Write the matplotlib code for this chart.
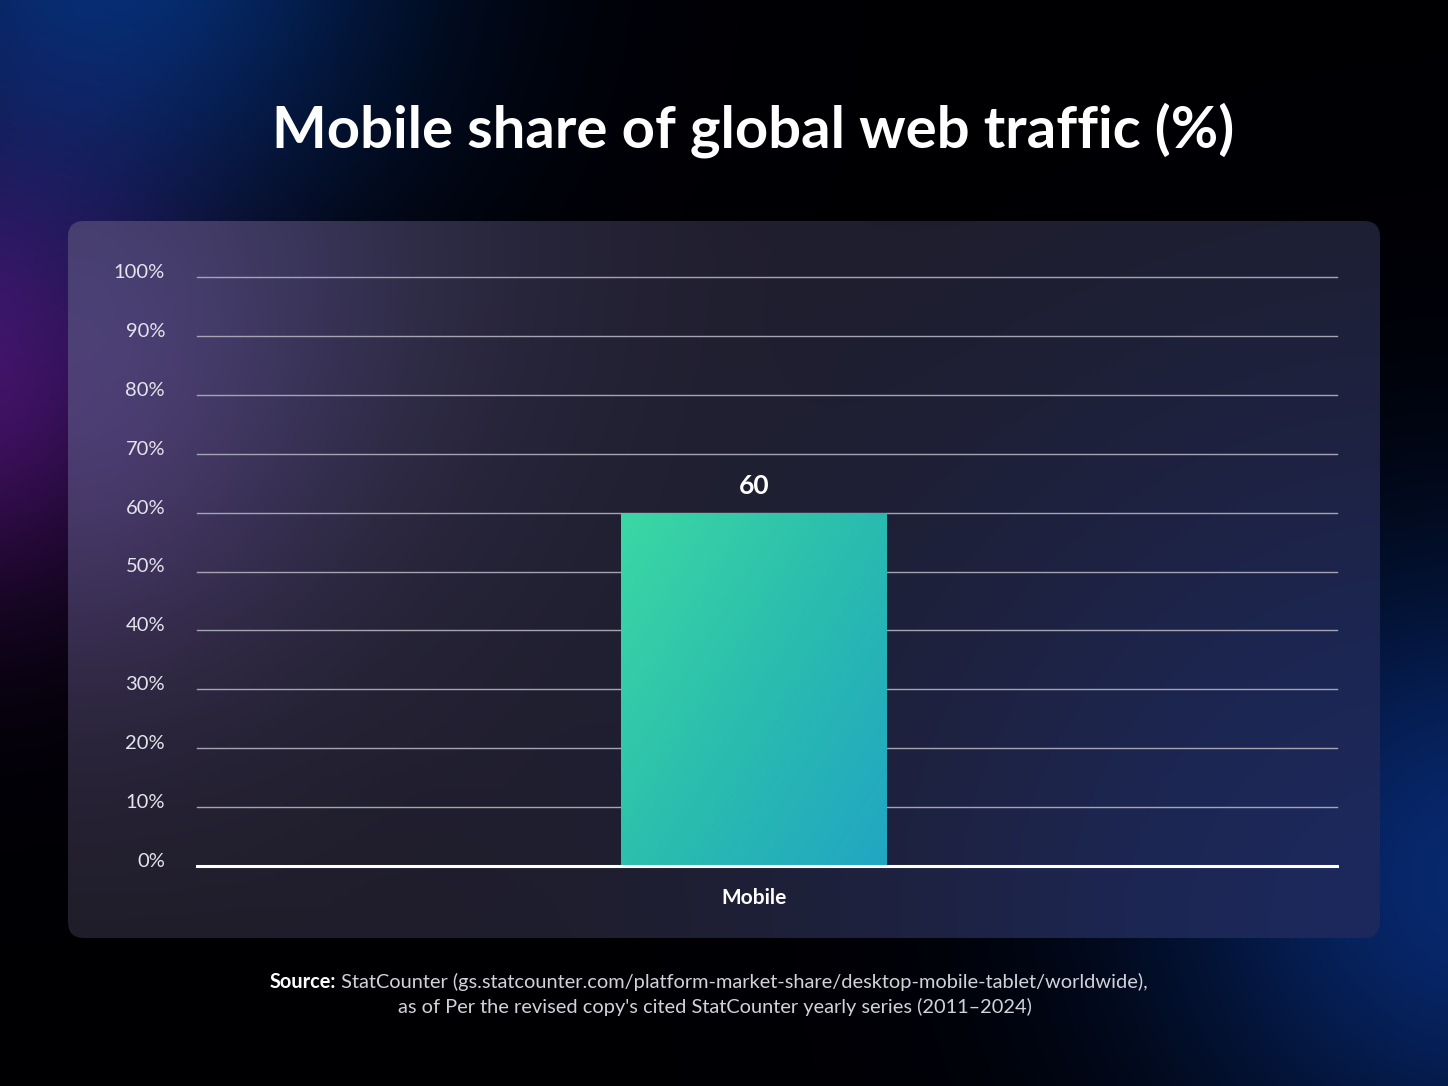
import numpy as np
import matplotlib.pyplot as plt
import matplotlib.transforms as mtransforms
from matplotlib.patches import FancyBboxPatch
from matplotlib.colors import LinearSegmentedColormap

# chart data
categories = ['Mobile']
values = [60]
y_ticks = [0, 10, 20, 30, 40, 50, 60, 70, 80, 90, 100]
y_tick_labels = [f'{t}%' for t in y_ticks]
title = 'Mobile share of global web traffic (%)'
source_bold = 'Source:'
source_line1 = ' StatCounter (gs.statcounter.com/platform-market-share/desktop-mobile-tablet/worldwide),'
source_line2 = "as of Per the revised copy's cited StatCounter yearly series (2011\u20132024)"

plt.rcParams['font.family'] = ['Lato', 'DejaVu Sans']

W, H = 1448, 1086
fig = plt.figure(figsize=(W / 100, H / 100), dpi=100)

# background with soft glows (pixel coords, y down)
bg = fig.add_axes([0, 0, 1, 1])
yy, xx = np.mgrid[0:H, 0:W]


def glow(cx, cy, r, color):
    d = np.exp(-((xx - cx) ** 2 + (yy - cy) ** 2) / (2.0 * r ** 2))
    return d[..., None] * np.array(color)[None, None, :]


img = np.zeros((H, W, 3)) + np.array([0.0, 0.0, 0.015])
img += glow(110, -60, 210, (0.02, 0.18, 0.44))
img += glow(-40, 380, 160, (0.26, 0.06, 0.36))
img += glow(1480, 880, 230, (0.03, 0.16, 0.42))
img = np.clip(img, 0, 1)
bg.imshow(img, extent=(0, W, H, 0), interpolation='bilinear')

# rounded panel
panel = FancyBboxPatch((68, 221), 1312, 717, boxstyle='round,pad=0,rounding_size=16',
                       facecolor='none', edgecolor='none')
bg.add_patch(panel)
pimg = np.zeros((H, W, 3)) + np.array([0.12, 0.11, 0.155])
pimg += glow(90, 230, 280, (0.12, 0.12, 0.23))
pimg += glow(40, 460, 180, (0.09, 0.04, 0.12))
pimg += glow(1420, 930, 420, (-0.01, 0.05, 0.21))
pimg = np.clip(pimg, 0, 1)
pim = bg.imshow(pimg, extent=(0, W, H, 0), interpolation='bilinear')
pim.set_clip_path(panel)
bg.set_xlim(0, W)
bg.set_ylim(H, 0)
bg.axis('off')

# main chart
ax = fig.add_axes([197 / W, (H - 866) / H, 1140 / W, (866 - 277) / H])
ax.set_facecolor('none')
x = np.arange(len(categories))
bars = ax.bar(x, values, width=0.7, color='none', zorder=3)

cmap = LinearSegmentedColormap.from_list('bar', ['#3bd8a4', '#2bbdae', '#21a6c3'])
u, v = np.meshgrid(np.linspace(0, 1, 200), np.linspace(0, 1, 200))
grad = (u * 0.55 + v * 0.45)
for b in bars:
    im = ax.imshow(grad, cmap=cmap, aspect='auto', origin='upper',
                   extent=(b.get_x(), b.get_x() + b.get_width(), 0, b.get_height()),
                   zorder=3, interpolation='bilinear')
    im.set_clip_path(b)
    ax.annotate(f'{b.get_height():g}', (b.get_x() + b.get_width() / 2, b.get_height()),
                xytext=(0, 19), textcoords='offset points', ha='center', va='center',
                fontsize=19, fontweight='bold', color='white')

ax.set_xlim(-1.466, 1.534)
ax.set_ylim(0, 100)
for t in y_ticks[1:]:
    ax.axhline(t, color='#a4a4b2', lw=1.0, zorder=1, clip_on=False)
ax.axhline(0, color='white', lw=2.2, zorder=4, clip_on=False)

ax.set_yticks(y_ticks, y_tick_labels)
ax.set_xticks(x, categories)
ax.tick_params(axis='y', length=0, pad=23, labelsize=14.5, labelcolor='#e4e4ec')
ax.tick_params(axis='x', length=0, pad=16, labelsize=15, labelcolor='white')
for lab in ax.get_xticklabels():
    lab.set_fontweight('bold')
# labels sit a little above their gridlines
shift = mtransforms.ScaledTranslation(0, 6 / 100, fig.dpi_scale_trans)
for lab in ax.get_yticklabels():
    lab.set_transform(lab.get_transform() + shift)
for s in ax.spines.values():
    s.set_visible(False)

fig.text(753 / W, 1 - 130 / H, title, ha='center', va='center',
         fontsize=41.8, fontweight='bold', color='white')

# source note
fs = 14.4
t1 = fig.text(0, 1 - 982 / H, source_bold, ha='left', va='center',
              fontsize=fs, fontweight='bold', color='white')
t2 = fig.text(0, 1 - 982 / H, source_line1, ha='left', va='center',
              fontsize=fs, color='#d2d2da')
fig.text(715 / W, 1 - 1007 / H, source_line2, ha='center', va='center',
         fontsize=fs, color='#d2d2da')
fig.canvas.draw()
r = fig.canvas.get_renderer()
w1 = t1.get_window_extent(r).width
w2 = t2.get_window_extent(r).width
start = 709 - (w1 + w2) / 2
t1.set_x(start / W)
t2.set_x((start + w1) / W)

fig.savefig('out.png', dpi=100)
